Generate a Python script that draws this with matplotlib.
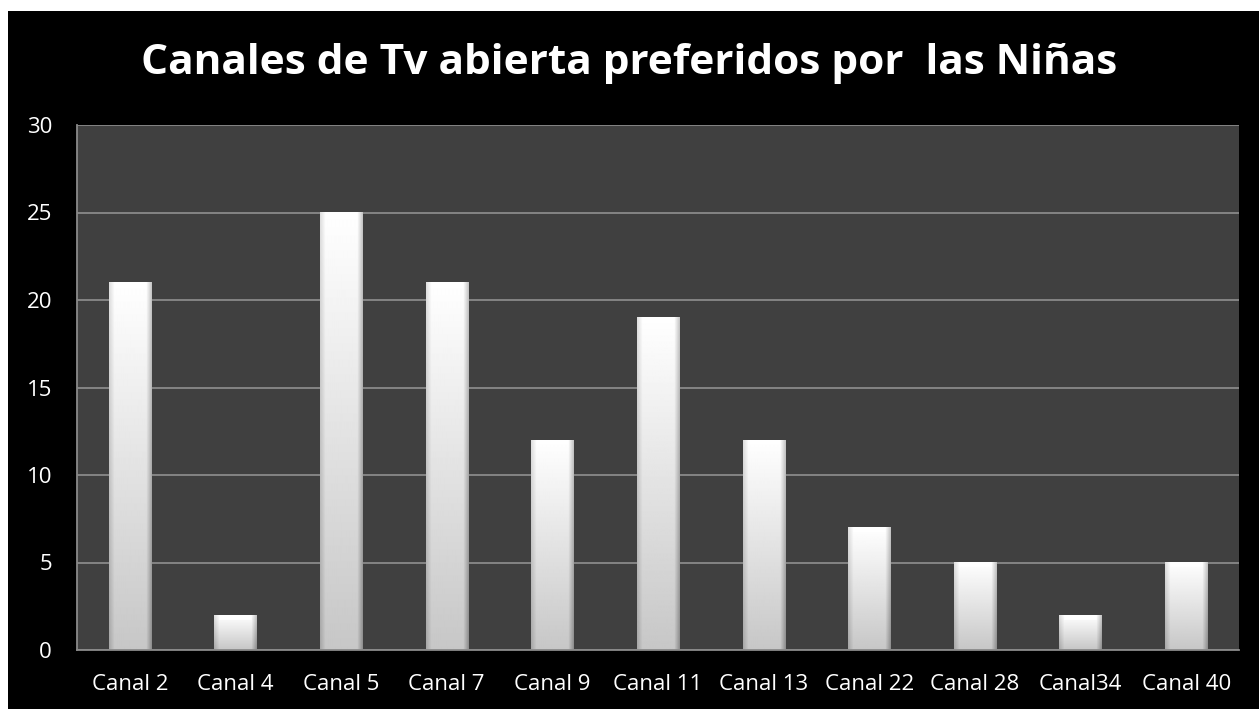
import numpy as np
import matplotlib.pyplot as plt
from matplotlib.patches import Rectangle

# --- DATA ---
canales = ['Canal 2', 'Canal 4', 'Canal 5', 'Canal 7', 'Canal 9', 'Canal 11',
           'Canal 13', 'Canal 22', 'Canal 28', 'Canal34', 'Canal 40']
ninas = [21, 2, 25, 21, 12, 19, 12, 7, 5, 2, 5]
y_ticks = [0, 5, 10, 15, 20, 25, 30]
titulo = 'Canales de Tv abierta preferidos por  las Niñas'

W, H, DPI = 1259, 709, 100
plt.rcParams['font.family'] = ['Open Sans', 'DejaVu Sans']

fig = plt.figure(figsize=(W / DPI, H / DPI), dpi=DPI, facecolor='white')
# black chart area with a thin white margin at top and left
fig.patches.append(Rectangle((8 / W, 0), 1, 1 - 11 / H, transform=fig.transFigure,
                             facecolor='black', edgecolor='none', zorder=-10))

ax = fig.add_axes([77 / W, 59 / H, 1162 / W, 525 / H])
ax.set_facecolor('#404040')

x = np.arange(len(canales))
bars = ax.bar(x, ninas, width=0.4, color='none', zorder=3)

ax.set_xlim(-0.5, len(canales) - 0.5)
ax.set_ylim(0, 30)
ax.set_yticks(y_ticks)
ax.set_xticks(x)
ax.set_xticklabels(canales)
ax.tick_params(colors='white', labelsize=16, length=0)
ax.tick_params(axis='y', pad=18)
ax.tick_params(axis='x', pad=17)
ax.grid(True, axis='y', color='#8a8a8a', linewidth=1.3, zorder=1)
for side in ['top', 'right']:
    ax.spines[side].set_visible(False)
for side in ['left', 'bottom']:
    ax.spines[side].set_color('#8a8a8a')
    ax.spines[side].set_linewidth(1.3)
    ax.spines[side].set_zorder(4)


def bevel_image(wpx, hpx, b=5):
    # vertical gradient: white at top, light gray at bottom
    yy = np.linspace(0, 1, hpx)[:, None]
    base = 1.0 - 0.22 * yy * np.ones((1, wpx))
    img = base.copy()
    xs = np.arange(wpx)[None, :]
    ys = np.arange(hpx)[:, None]
    left = xs < b
    right = xs >= wpx - b
    top = ys < b
    # side bevels darker, top bevel lighter
    img = np.where(left, base - 0.12 * (1 - xs / b), img)
    img = np.where(right, base - 0.22 * (1 - (wpx - 1 - xs) / b), img)
    img = np.where(top & ~left & ~right, np.minimum(base + 0.05, 1.0), img)
    return np.clip(img, 0, 1)


fig.canvas.draw()
for rect in bars:
    x0, w, h = rect.get_x(), rect.get_width(), rect.get_height()
    p0 = ax.transData.transform((x0, 0))
    p1 = ax.transData.transform((x0 + w, h))
    wpx = max(int(round(p1[0] - p0[0])), 2)
    hpx = max(int(round(p1[1] - p0[1])), 2)
    img = bevel_image(wpx, hpx)
    ax.imshow(img, cmap='gray', vmin=0, vmax=1, extent=(x0, x0 + w, 0, h),
              aspect='auto', zorder=3, interpolation='bilinear')
ax.set_xlim(-0.5, len(canales) - 0.5)
ax.set_ylim(0, 30)

fig.text(0.5, 1 - 64 / H, titulo, color='white', fontsize=30.5, fontweight='bold',
         ha='center', va='center')

fig.savefig('out.png', dpi=DPI, facecolor=fig.get_facecolor())
